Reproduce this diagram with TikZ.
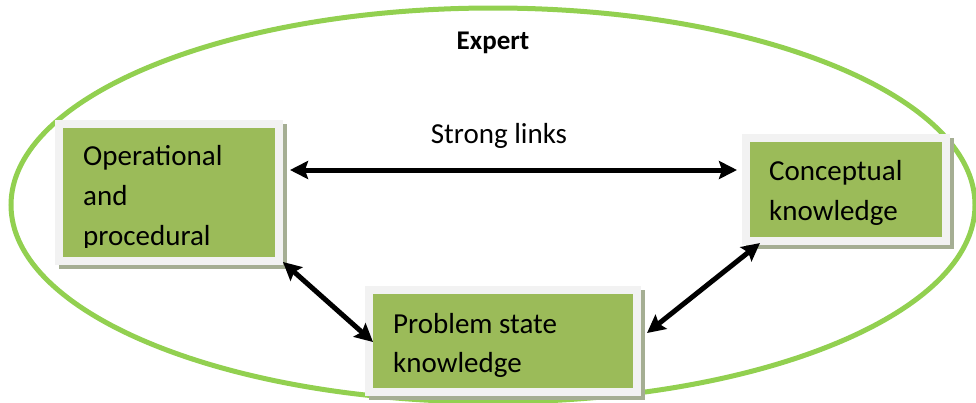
\documentclass[tikz,border=0pt]{standalone}
\usepackage{fontspec}
\setmainfont{Carlito}
\usetikzlibrary{arrows.meta,calc}
\definecolor{ellgreen}{HTML}{92D050}
\definecolor{boxgreen}{HTML}{9BBB59}
\definecolor{framegray}{HTML}{F2F2F2}
\definecolor{shadowc}{HTML}{A5AE93}
\tikzset{
  kbox/.style={rectangle, draw=framegray, line width=8pt, fill=boxgreen,
    preaction={draw=shadowc, fill=shadowc, transform canvas={shift={(4pt,-4pt)}}},
    inner sep=0pt, outer sep=0pt},
  ktext/.style={anchor=base west, inner sep=0pt, font=\fontsize{29}{35}\selectfont},
  link/.style={line width=5pt, {Stealth[length=18pt,width=18pt,inset=3pt]}-{Stealth[length=18pt,width=18pt,inset=3pt]}}
}
\begin{document}
\begin{tikzpicture}[x=1pt,y=-1pt]
\useasboundingbox (0,0) rectangle (976,402);
\draw[ellgreen, line width=5pt] (493,205) ellipse [x radius=482, y radius=197];
\node[kbox, minimum width=220pt, minimum height=137pt] (op) at (169,192.5) {};
\node[kbox, minimum width=200pt, minimum height=103pt] (con) at (846,189.5) {};
\node[kbox, minimum width=268pt, minimum height=102pt] (pr) at (503,341) {};
\begin{scope}
\clip (63,128) rectangle (275,247);
\node[ktext] (op1) at (83,165) {Operational};
\node[ktext] (op2) at (83,205) {and};
\node[ktext] (op3) at (83,245) {procedural};
\end{scope}
\node[ktext] (con1) at (769,180) {Conceptual};
\node[ktext] (con2) at (769,220) {knowledge};
\node[ktext] (pr1) at (393,333) {Problem state};
\node[ktext] (pr2) at (393,372) {knowledge};
\node[anchor=base, inner sep=0pt, font=\fontsize{27}{32}\selectfont\bfseries] (exp) at (493,49) {Expert};
\node[anchor=base, inner sep=0pt, font=\fontsize{29}{35}\selectfont] (sl) at (499,143) {Strong links};
\coordinate (h1) at ($(op.east)+(11,-22.5)$);
\coordinate (h2) at ($(con.west)+(-9,-19.5)$);
\draw[link] (h1) -- (h2);
\coordinate (d1) at ($(op.south east)+(4,1)$);
\coordinate (d2) at ($(pr.west)+(4,1)$);
\draw[link] (d1) -- (d2);
\coordinate (e1) at ($(con.south west)+(14,2)$);
\coordinate (e2) at ($(pr.east)+(10,-8)$);
\draw[link] (e1) -- (e2);
\end{tikzpicture}
\end{document}
